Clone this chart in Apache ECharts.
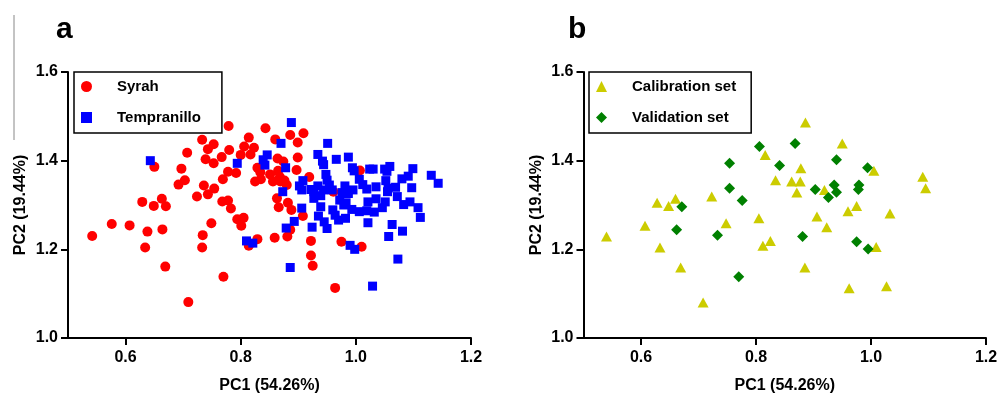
<!DOCTYPE html>
<html>
<head>
<meta charset="utf-8">
<script src="https://cdn.jsdelivr.net/npm/echarts@6/dist/echarts.min.js"></script>
<style>
  html, body { margin: 0; padding: 0; background: #fff; }
  #chart { width: 997px; height: 395px; }
</style>
</head>
<body>
<div id="chart"></div>
<script>
// PCA scores, panel a (by variety)
const syrah = [
  [0.542, 1.230], [0.576, 1.257], [0.607, 1.254], [0.638, 1.240], [0.664, 1.245], [0.634, 1.204], [0.669, 1.161], [0.709, 1.081], [0.770, 1.138], [0.733, 1.204],
  [0.734, 1.232], [0.749, 1.259], [0.629, 1.307], [0.649, 1.298], [0.663, 1.314], [0.670, 1.297], [0.650, 1.386], [0.707, 1.418], [0.697, 1.382], [0.703, 1.356],
  [0.692, 1.346], [0.724, 1.319], [0.736, 1.344], [0.754, 1.337], [0.743, 1.324], [0.769, 1.358], [0.768, 1.308], [0.778, 1.310], [0.783, 1.292], [0.794, 1.268],
  [0.805, 1.271], [0.801, 1.253], [0.829, 1.223], [0.814, 1.208], [0.859, 1.226], [0.882, 1.305], [0.888, 1.289], [0.866, 1.295], [0.863, 1.315], [0.881, 1.229],
  [0.886, 1.244], [0.908, 1.275], [0.779, 1.478], [0.843, 1.473], [0.733, 1.447], [0.753, 1.437], [0.743, 1.426], [0.814, 1.452], [0.806, 1.432], [0.823, 1.429],
  [0.780, 1.424], [0.800, 1.413], [0.817, 1.414], [0.767, 1.408], [0.753, 1.394], [0.739, 1.403], [0.860, 1.448], [0.864, 1.405], [0.778, 1.375], [0.792, 1.372],
  [0.829, 1.384], [0.834, 1.374], [0.851, 1.369], [0.865, 1.377], [0.868, 1.363], [0.856, 1.353], [0.869, 1.353], [0.825, 1.353], [0.835, 1.358], [0.886, 1.458],
  [0.909, 1.462], [0.899, 1.441], [0.899, 1.407], [0.897, 1.379], [0.874, 1.398], [0.876, 1.355], [0.880, 1.345], [0.919, 1.363], [1.007, 1.378], [0.961, 1.330],
  [0.922, 1.219], [0.922, 1.186], [0.925, 1.163], [0.975, 1.217], [1.010, 1.206], [0.964, 1.113]
]
const tempranillo = [
  [0.643, 1.400], [0.794, 1.394], [0.810, 1.219], [0.821, 1.214], [0.846, 1.413], [0.839, 1.402], [0.842, 1.390], [0.870, 1.439], [0.878, 1.384], [0.873, 1.330],
  [0.879, 1.248], [0.893, 1.263], [0.906, 1.293], [0.886, 1.159], [0.888, 1.486], [0.951, 1.439], [0.934, 1.414], [0.942, 1.399], [0.944, 1.391], [0.966, 1.403],
  [0.987, 1.408], [0.994, 1.384], [0.997, 1.377], [1.024, 1.381], [0.908, 1.355], [0.906, 1.334], [0.902, 1.343], [0.948, 1.369], [0.950, 1.356], [0.954, 1.345],
  [0.959, 1.334], [0.944, 1.334], [0.934, 1.343], [0.927, 1.330], [0.927, 1.315], [0.939, 1.321], [0.981, 1.343], [0.976, 1.328], [0.987, 1.326], [0.995, 1.334],
  [1.006, 1.358], [1.012, 1.346], [1.019, 1.336], [0.972, 1.311], [0.979, 1.300], [0.983, 1.305], [0.939, 1.296], [0.960, 1.289], [0.964, 1.277], [0.970, 1.266],
  [0.982, 1.270], [0.993, 1.290], [1.006, 1.285], [1.019, 1.287], [1.021, 1.260], [0.935, 1.275], [0.945, 1.262], [0.950, 1.247], [0.924, 1.250], [0.990, 1.209],
  [0.998, 1.200], [1.030, 1.381], [1.050, 1.381], [1.059, 1.387], [1.054, 1.376], [1.099, 1.382], [1.091, 1.365], [1.080, 1.359], [1.131, 1.367], [1.143, 1.349],
  [1.035, 1.341], [1.052, 1.355], [1.056, 1.338], [1.069, 1.340], [1.097, 1.339], [1.072, 1.319], [1.083, 1.301], [1.094, 1.307], [1.108, 1.294], [1.112, 1.272],
  [1.021, 1.307], [1.035, 1.314], [1.051, 1.307], [1.046, 1.294], [1.032, 1.284], [1.063, 1.256], [1.081, 1.241], [1.057, 1.229], [1.073, 1.178], [1.029, 1.117],
  [1.055, 1.330], [0.922, 1.335]
]

// panel b (by set)
const calibration = [
  [0.540, 1.229], [0.607, 1.253], [0.628, 1.305], [0.648, 1.298], [0.660, 1.314], [0.633, 1.204], [0.669, 1.159], [0.708, 1.080], [0.723, 1.319], [0.748, 1.259],
  [0.805, 1.270], [0.812, 1.208], [0.825, 1.219], [0.816, 1.413], [0.834, 1.356], [0.862, 1.353], [0.877, 1.353], [0.871, 1.328], [0.906, 1.274], [0.885, 1.159],
  [0.886, 1.486], [0.950, 1.439], [0.878, 1.383], [1.005, 1.377], [0.919, 1.334], [1.090, 1.364], [1.095, 1.338], [0.975, 1.298], [0.960, 1.286], [1.033, 1.281],
  [0.923, 1.250], [1.009, 1.205], [0.962, 1.112], [1.027, 1.117]
]
const validation = [
  [0.806, 1.432], [0.841, 1.389], [0.754, 1.394], [0.754, 1.338], [0.776, 1.310], [0.671, 1.296], [0.662, 1.244], [0.733, 1.232], [0.770, 1.138], [0.903, 1.335],
  [0.881, 1.229], [0.868, 1.439], [0.940, 1.402], [0.994, 1.384], [0.936, 1.345], [0.940, 1.329], [0.926, 1.317], [0.979, 1.345], [0.978, 1.335], [0.975, 1.217],
  [0.995, 1.201]
]

const xTicks = [0.6, 0.8, 1.0, 1.2]
const xName = 'PC1 (54.26%)'
const yName = 'PC2 (19.44%)'

const font = 'Arial, "Liberation Sans", sans-serif'

function xAxis(idx) {
  return {
    gridIndex: idx,
    type: 'value',
    min: 0.5,
    max: 1.2,
    name: xName,
    nameLocation: 'middle',
    nameGap: 40,
    nameTextStyle: { color: '#000', fontWeight: 'bold', fontSize: 16, fontFamily: font },
    axisLine: { onZero: false, lineStyle: { color: '#000', width: 2 } },
    axisTick: { show: true, length: 7, customValues: xTicks, lineStyle: { color: '#000', width: 2 } },
    axisLabel: {
      customValues: xTicks,
      margin: 12,
      color: '#000',
      fontWeight: 'bold',
      fontSize: 16,
      fontFamily: font,
      formatter: v => v.toFixed(1)
    },
    splitLine: { show: false }
  }
}

function yAxis(idx) {
  return {
    gridIndex: idx,
    type: 'value',
    min: 1.0,
    max: 1.6,
    interval: 0.2,
    name: yName,
    nameLocation: 'middle',
    nameGap: 39,
    nameTextStyle: { color: '#000', fontWeight: 'bold', fontSize: 16, fontFamily: font },
    axisLine: { show: true, onZero: false, lineStyle: { color: '#000', width: 2 } },
    axisTick: { show: true, length: 7, lineStyle: { color: '#000', width: 2 } },
    axisLabel: {
      margin: 10,
      color: '#000',
      fontWeight: 'bold',
      fontSize: 16,
      fontFamily: font,
      formatter: v => v.toFixed(1)
    },
    splitLine: { show: false }
  }
}

function legend(left, names, padRight) {
  return {
    data: names,
    orient: 'vertical',
    left: left,
    top: 72,
    itemWidth: 11,
    itemHeight: 11,
    itemGap: 16,
    padding: [7, padRight, 8, 7],
    borderColor: '#000',
    borderWidth: 1.5,
    backgroundColor: '#fff',
    textStyle: { color: '#000', fontWeight: 'bold', fontSize: 15, fontFamily: font, padding: [0, 0, 0, 20] }
  }
}

const chart = echarts.init(document.getElementById('chart'))
const option = {
  animation: false,
  backgroundColor: '#fff',
  title: [
    { text: 'a', left: 51, top: 10, textStyle: { fontSize: 30, fontWeight: 'bold', color: '#000', fontFamily: font } },
    { text: 'b', left: 563, top: 10, textStyle: { fontSize: 30, fontWeight: 'bold', color: '#000', fontFamily: font } }
  ],
  graphic: [
    { type: 'line', shape: { x1: 14, y1: 15, x2: 14, y2: 140 }, style: { stroke: '#888', lineWidth: 1 } }
  ],
  legend: [
    legend(74, ['Syrah', 'Tempranillo'], 21),
    legend(589, ['Calibration set', 'Validation set'], 15)
  ],
  grid: [
    { left: 68, right: 526, top: 72, bottom: 57, outerBoundsMode: 'none' },
    { left: 583.5, right: 11, top: 72, bottom: 57, outerBoundsMode: 'none' }
  ],
  xAxis: [xAxis(0), xAxis(1)],
  yAxis: [yAxis(0), yAxis(1)],
  series: [
    { name: 'Syrah', type: 'scatter', xAxisIndex: 0, yAxisIndex: 0, symbol: 'circle', symbolSize: 10, itemStyle: { color: '#ff0000', opacity: 1 }, data: syrah },
    { name: 'Tempranillo', type: 'scatter', xAxisIndex: 0, yAxisIndex: 0, symbol: 'rect', symbolSize: 9, itemStyle: { color: '#0000ff', opacity: 1 }, data: tempranillo },
    { name: 'Calibration set', type: 'scatter', xAxisIndex: 1, yAxisIndex: 1, symbol: 'triangle', symbolSize: [11, 10], itemStyle: { color: '#cccc00', opacity: 1 }, data: calibration },
    { name: 'Validation set', type: 'scatter', xAxisIndex: 1, yAxisIndex: 1, symbol: 'diamond', symbolSize: 11, itemStyle: { color: '#008000', opacity: 1 }, data: validation }
  ]
}

chart.setOption(option)
</script>
</body>
</html>
